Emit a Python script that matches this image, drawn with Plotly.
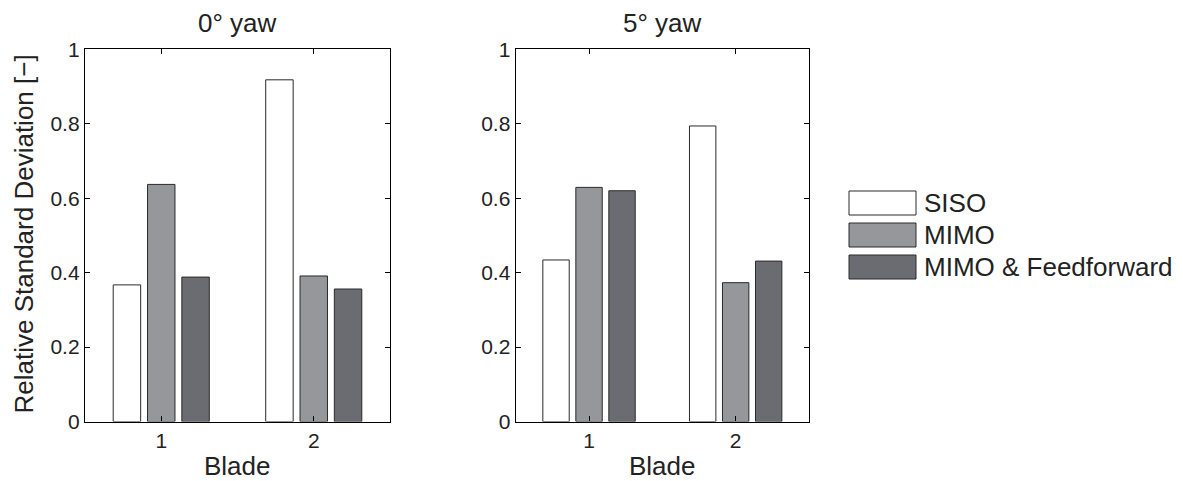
import plotly.graph_objects as go

W, H = 1183, 481
OFF = 8  # page body margin in the browser

blades = [1, 2]
tick_labels = ["1", "2"]
series_names = ["SISO", "MIMO", "MIMO & Feedforward"]
series_colors = ["#ffffff", "#96979b", "#6b6c71"]
yaw0_siso = [0.367, 0.918]
yaw0_mimo = [0.637, 0.391]
yaw0_ff = [0.388, 0.356]
yaw5_siso = [0.434, 0.794]
yaw5_mimo = [0.629, 0.373]
yaw5_ff = [0.620, 0.431]
y_ticks = [0, 0.2, 0.4, 0.6, 0.8, 1]
y_tick_text = ["0", "0.2", "0.4", "0.6", "0.8", "1"]

FONT = "Liberation Sans, Arial, Helvetica, sans-serif"

fig = go.Figure()
panels = [("x", "y", [yaw0_siso, yaw0_mimo, yaw0_ff]),
          ("x2", "y2", [yaw5_siso, yaw5_mimo, yaw5_ff])]
for xa, ya, vals in panels:
    for name, col, v in zip(series_names, series_colors, vals):
        fig.add_trace(go.Bar(x=blades, y=v, name=name, xaxis=xa, yaxis=ya,
                             marker=dict(color=col, line=dict(color="#2a2a2a", width=1)),
                             showlegend=False))

def px_x(p):
    return (p - OFF) / W

def px_y(p):
    return 1 - (p - OFF) / H

y_dom = [px_y(421.5), px_y(49.3)]
axis_common = dict(showline=True, linecolor="black", linewidth=1.3, mirror="ticks",
                   ticks="inside", ticklen=5, tickcolor="black", showgrid=False,
                   zeroline=False, automargin=False,
                   tickfont=dict(family=FONT, size=21, color="#222"))

fig.update_layout(
    template="none",
    width=W, height=H, margin=dict(l=0, r=0, t=0, b=0, pad=0),
    paper_bgcolor="white", plot_bgcolor="white",
    barmode="group", bargap=0.325, bargroupgap=0.2,
    font=dict(family=FONT, color="#222"),
    xaxis=dict(domain=[px_x(85), px_x(390)], range=[0.5, 2.5], tickvals=blades,
               ticktext=tick_labels, anchor="y", **axis_common),
    yaxis=dict(domain=y_dom, range=[0, 1], tickvals=y_ticks, ticktext=y_tick_text,
               anchor="x", **axis_common),
    xaxis2=dict(domain=[px_x(515.7), px_x(809)], range=[0.5, 2.5], tickvals=blades,
                ticktext=tick_labels, anchor="y2", **axis_common),
    yaxis2=dict(domain=y_dom, range=[0, 1], tickvals=y_ticks, ticktext=y_tick_text,
                anchor="x2", **axis_common),
)

def label(text, x, y, size=26, angle=0, xanchor="center"):
    return dict(text=text, x=px_x(x), y=px_y(y), xref="paper", yref="paper",
                xanchor=xanchor, yanchor="middle", textangle=angle, showarrow=False,
                font=dict(size=size, family=FONT, color="#222"))

ann = [
    label("0° yaw", 237.5, 23),
    label("5° yaw", 662, 23),
    label("Blade", 237.5, 466),
    label("Blade", 662, 466),
    label("Relative Standard Deviation [−]", 23.5, 234, size=26, angle=-90),
]

shapes = []
row_centers = [203, 235, 267]
for name, col, yc in zip(series_names, series_colors, row_centers):
    shapes.append(dict(type="rect", xref="paper", yref="paper",
                       x0=px_x(849), x1=px_x(916), y0=px_y(yc + 12), y1=px_y(yc - 12),
                       fillcolor=col, line=dict(color="#2a2a2a", width=1)))
    ann.append(label(name, 922, yc, size=26, xanchor="left"))

fig.update_layout(annotations=ann, shapes=shapes)
fig.write_html("out.html")
